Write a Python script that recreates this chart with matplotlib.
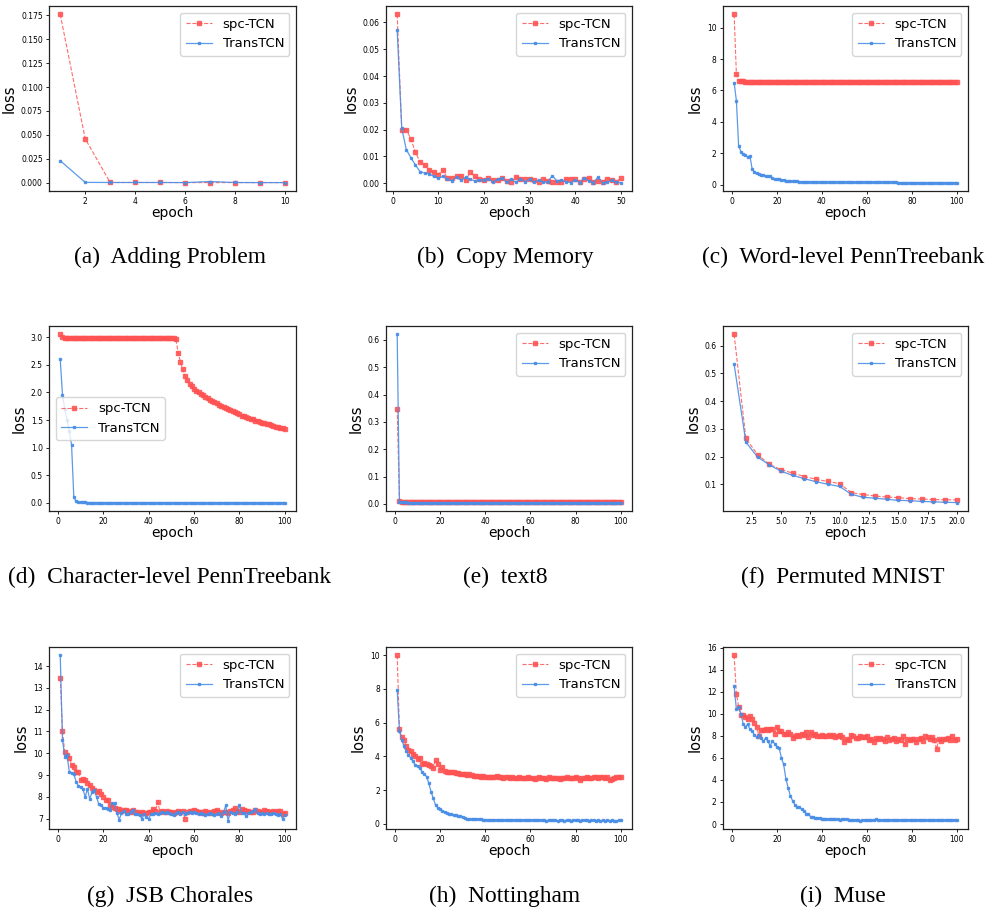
import numpy as np
import matplotlib
matplotlib.use("Agg")
import matplotlib.pyplot as plt

# ---------------- data ----------------
series_names = ["spc-TCN", "TransTCN"]
captions = ["(a)  Adding Problem", "(b)  Copy Memory", "(c)  Word-level PennTreebank",
            "(d)  Character-level PennTreebank", "(e)  text8", "(f)  Permuted MNIST",
            "(g)  JSB Chorales", "(h)  Nottingham", "(i)  Muse"]

adding_spc = [0.176, 0.046, 0.0002, 0.0002, 0.0002, 0.0001, 0.0001, 0.0001, 0.0001, 0.0001]
adding_trans = [0.023, 0.0003, 0.0002, 0.0002, 0.0002, 0.0001, 0.0012, 0.0002, 0.0001, 0.0001]

copy_spc = [0.063, 0.020, 0.020, 0.0165, 0.0115, 0.008, 0.0068, 0.0048, 0.004, 0.0032,
            0.005, 0.0018, 0.0018, 0.0025, 0.0027, 0.001, 0.004, 0.0025, 0.0015, 0.001,
            0.0018, 0.001, 0.0012, 0.002, 0.0008, 0.0003, 0.0024, 0.0015, 0.0015, 0.0014,
            0.001, 0.0005, 0.0017, 0.0008, 0.0004, 0.0005, 0.0003, 0.0014, 0.0014, 0.0015,
            0.0003, 0.0017, 0.0018, 0.0003, 0.0008, 0.0005, 0.0017, 0.0012, 0.0005, 0.0018]
copy_trans = [0.057, 0.0205, 0.0125, 0.0095, 0.0068, 0.0043, 0.0038, 0.0035, 0.0025, 0.0018,
              0.0025, 0.0015, 0.0008, 0.0022, 0.001, 0.0022, 0.0015, 0.0008, 0.0012, 0.0012,
              0.0017, 0.0003, 0.0014, 0.0018, 0.0003, 0.0015, 0.0003, 0.0015, 0.0005, 0.0015,
              0.0003, 0.0012, 0.0003, 0.0005, 0.0028, 0.0008, 0.0012, 0.0005, 0.0002, 0.0012,
              0.0002, 0.002, 0.0008, 0.0002, 0.0022, 0.0002, 0.0003, 0.001, 0.0003, 0.0002]

word_spc = [10.85, 7.05, 6.62, 6.60, 6.58, 6.56, 6.56, 6.55, 6.55, 6.55,
            6.55, 6.55, 6.54, 6.54, 6.54, 6.54, 6.54, 6.54, 6.54, 6.54,
            6.54, 6.54, 6.54, 6.54, 6.54, 6.54, 6.54, 6.54, 6.54, 6.54,
            6.54, 6.54, 6.54, 6.54, 6.54, 6.54, 6.54, 6.53, 6.53, 6.53,
            6.53, 6.53, 6.53, 6.53, 6.53, 6.53, 6.53, 6.53, 6.53, 6.53,
            6.53, 6.53, 6.53, 6.53, 6.53, 6.53, 6.53, 6.53, 6.53, 6.53,
            6.53, 6.53, 6.53, 6.53, 6.53, 6.53, 6.53, 6.53, 6.53, 6.53,
            6.53, 6.53, 6.53, 6.53, 6.53, 6.53, 6.53, 6.53, 6.53, 6.53,
            6.53, 6.53, 6.53, 6.53, 6.53, 6.53, 6.53, 6.53, 6.53, 6.53,
            6.53, 6.53, 6.53, 6.53, 6.53, 6.53, 6.53, 6.53, 6.53, 6.53]
word_trans = [6.50, 5.35, 2.48, 2.10, 1.95, 1.88, 1.75, 1.85, 1.00, 0.82,
              0.72, 0.66, 0.62, 0.59, 0.57, 0.55, 0.53, 0.40, 0.36, 0.34,
              0.33, 0.31, 0.30, 0.26, 0.24, 0.23, 0.22, 0.21, 0.20, 0.19,
              0.19, 0.18, 0.18, 0.17, 0.17, 0.17, 0.16, 0.16, 0.16, 0.16,
              0.15, 0.15, 0.15, 0.15, 0.15, 0.15, 0.15, 0.15, 0.15, 0.15,
              0.14, 0.14, 0.14, 0.14, 0.14, 0.14, 0.14, 0.14, 0.14, 0.14,
              0.14, 0.14, 0.14, 0.14, 0.14, 0.14, 0.14, 0.14, 0.14, 0.14,
              0.14, 0.14, 0.14, 0.13, 0.13, 0.13, 0.13, 0.13, 0.13, 0.13,
              0.13, 0.13, 0.13, 0.13, 0.13, 0.13, 0.13, 0.13, 0.13, 0.13,
              0.13, 0.13, 0.13, 0.13, 0.13, 0.13, 0.13, 0.13, 0.13, 0.13]

char_spc = [3.05, 3.00, 2.98, 2.98, 2.98, 2.98, 2.98, 2.98, 2.98, 2.98,
            2.98, 2.98, 2.98, 2.98, 2.98, 2.98, 2.98, 2.98, 2.98, 2.98,
            2.98, 2.98, 2.98, 2.98, 2.98, 2.98, 2.98, 2.98, 2.98, 2.98,
            2.98, 2.98, 2.98, 2.98, 2.98, 2.98, 2.98, 2.98, 2.98, 2.98,
            2.98, 2.98, 2.98, 2.98, 2.98, 2.98, 2.98, 2.98, 2.98, 2.98,
            2.98, 2.96, 2.72, 2.55, 2.42, 2.30, 2.22, 2.16, 2.11, 2.07,
            2.03, 2.00, 1.97, 1.95, 1.92, 1.90, 1.87, 1.85, 1.83, 1.80,
            1.78, 1.76, 1.74, 1.72, 1.70, 1.68, 1.66, 1.64, 1.62, 1.60,
            1.58, 1.57, 1.55, 1.54, 1.52, 1.51, 1.49, 1.48, 1.47, 1.45,
            1.44, 1.43, 1.42, 1.41, 1.39, 1.38, 1.37, 1.36, 1.35, 1.33]
char_trans = [2.60, 1.95, 1.70, 1.50, 1.30, 1.05, 0.10, 0.03, 0.015, 0.01,
              0.008, 0.007, 0.006, 0.006, 0.005, 0.005, 0.005, 0.005, 0.005, 0.005,
              0.005, 0.005, 0.005, 0.005, 0.005, 0.005, 0.005, 0.005, 0.005, 0.005,
              0.005, 0.005, 0.005, 0.005, 0.005, 0.005, 0.005, 0.005, 0.005, 0.005,
              0.005, 0.005, 0.005, 0.005, 0.005, 0.005, 0.005, 0.005, 0.005, 0.005,
              0.005, 0.005, 0.005, 0.005, 0.005, 0.005, 0.005, 0.005, 0.005, 0.005,
              0.005, 0.005, 0.005, 0.005, 0.005, 0.005, 0.005, 0.005, 0.005, 0.005,
              0.005, 0.005, 0.005, 0.005, 0.005, 0.005, 0.005, 0.005, 0.005, 0.005,
              0.005, 0.005, 0.005, 0.005, 0.005, 0.005, 0.005, 0.005, 0.005, 0.005,
              0.005, 0.005, 0.005, 0.005, 0.005, 0.005, 0.005, 0.005, 0.005, 0.005]

text8_spc = [0.347, 0.009, 0.008, 0.008, 0.008, 0.008, 0.008, 0.008, 0.008, 0.008,
             0.008, 0.008, 0.008, 0.008, 0.008, 0.008, 0.008, 0.008, 0.008, 0.008,
             0.008, 0.008, 0.008, 0.008, 0.008, 0.008, 0.008, 0.008, 0.008, 0.008,
             0.007, 0.007, 0.007, 0.007, 0.007, 0.007, 0.007, 0.007, 0.007, 0.007,
             0.007, 0.007, 0.007, 0.007, 0.007, 0.007, 0.007, 0.007, 0.007, 0.007,
             0.007, 0.007, 0.007, 0.007, 0.007, 0.007, 0.007, 0.007, 0.007, 0.007,
             0.007, 0.007, 0.007, 0.007, 0.007, 0.007, 0.007, 0.007, 0.007, 0.007,
             0.007, 0.007, 0.007, 0.007, 0.007, 0.007, 0.007, 0.007, 0.007, 0.007,
             0.007, 0.007, 0.007, 0.007, 0.007, 0.007, 0.007, 0.007, 0.007, 0.007,
             0.007, 0.007, 0.007, 0.007, 0.007, 0.007, 0.007, 0.007, 0.007, 0.007]
text8_trans = [0.620, 0.007, 0.006, 0.006, 0.006, 0.005, 0.005, 0.005, 0.005, 0.005,
               0.005, 0.005, 0.005, 0.005, 0.005, 0.005, 0.005, 0.005, 0.005, 0.005,
               0.005, 0.005, 0.005, 0.005, 0.005, 0.005, 0.005, 0.005, 0.005, 0.005,
               0.005, 0.005, 0.005, 0.005, 0.005, 0.005, 0.005, 0.005, 0.005, 0.005,
               0.005, 0.005, 0.005, 0.005, 0.005, 0.005, 0.005, 0.005, 0.005, 0.005,
               0.005, 0.005, 0.005, 0.005, 0.005, 0.005, 0.005, 0.005, 0.005, 0.005,
               0.005, 0.005, 0.005, 0.005, 0.005, 0.005, 0.005, 0.005, 0.005, 0.005,
               0.005, 0.005, 0.005, 0.005, 0.005, 0.005, 0.005, 0.005, 0.005, 0.005,
               0.005, 0.005, 0.005, 0.005, 0.005, 0.005, 0.005, 0.005, 0.005, 0.005,
               0.005, 0.005, 0.005, 0.005, 0.005, 0.005, 0.005, 0.005, 0.005, 0.005]

mnist_spc = [0.640, 0.265, 0.207, 0.172, 0.153, 0.140, 0.128, 0.118, 0.110, 0.102,
             0.070, 0.063, 0.058, 0.054, 0.052, 0.048, 0.047, 0.045, 0.044, 0.044]
mnist_trans = [0.532, 0.252, 0.198, 0.170, 0.147, 0.132, 0.120, 0.109, 0.100, 0.092,
               0.064, 0.053, 0.050, 0.046, 0.042, 0.041, 0.038, 0.037, 0.035, 0.034]

jsb_spc = [13.45, 11.0, 10.05, 9.9, 9.8, 9.45, 9.35, 9.15, 9.15, 8.75,
           8.8, 8.75, 8.65, 8.55, 8.4, 8.3, 8.2, 8.25, 8.15, 8.0,
           7.85, 7.85, 7.6, 7.55, 7.5, 7.45, 7.45, 7.35, 7.4, 7.4,
           7.35, 7.3, 7.4, 7.3, 7.3, 7.25, 7.3, 7.25, 7.25, 7.3,
           7.3, 7.45, 7.35, 7.75, 7.3, 7.35, 7.3, 7.35, 7.3, 7.3,
           7.25, 7.3, 7.35, 7.3, 7.35, 7.0, 7.3, 7.35, 7.35, 7.4,
           7.35, 7.3, 7.3, 7.25, 7.35, 7.3, 7.25, 7.3, 7.35, 7.4,
           7.3, 7.25, 7.3, 7.3, 7.25, 7.35, 7.4, 7.5, 7.35, 7.3,
           7.45, 7.4, 7.35, 7.35, 7.3, 7.3, 7.4, 7.35, 7.3, 7.3,
           7.4, 7.35, 7.3, 7.3, 7.35, 7.3, 7.35, 7.35, 7.2, 7.25]
jsb_trans = [14.5, 10.6, 9.85, 9.9, 9.15, 9.1, 9.05, 8.7, 8.5, 8.45,
             8.35, 8.0, 8.35, 7.9, 8.2, 8.3, 8.0, 7.65, 7.6, 7.5,
             7.5, 7.45, 7.4, 7.7, 7.7, 7.25, 6.95, 7.25, 7.35, 7.2,
             7.2, 7.3, 7.4, 7.2, 7.2, 7.15, 7.0, 7.2, 7.05, 7.0,
             7.2, 7.2, 7.25, 7.2, 7.25, 7.3, 7.25, 7.3, 7.25, 7.2,
             7.15, 7.25, 7.3, 7.2, 7.3, 7.2, 7.25, 7.3, 7.25, 7.3,
             7.25, 7.2, 7.25, 7.2, 7.15, 7.2, 7.25, 7.2, 7.15, 7.2,
             7.25, 7.1, 7.3, 7.6, 6.9, 7.3, 7.25, 7.2, 7.3, 7.6,
             7.25, 7.25, 7.1, 7.25, 7.3, 7.35, 7.45, 7.25, 7.2, 7.25,
             7.2, 7.25, 7.2, 7.2, 7.25, 7.2, 7.15, 7.2, 7.0, 7.15]

nott_spc = [10.0, 5.6, 5.15, 5.0, 4.6, 4.4, 4.3, 4.15, 4.05, 3.85,
            3.9, 3.55, 3.6, 3.55, 3.5, 3.4, 3.3, 3.8, 3.55, 3.2,
            3.35, 3.15, 3.1, 3.1, 3.05, 3.05, 3.0, 3.0, 2.95, 2.95,
            2.95, 2.9, 2.95, 2.9, 2.85, 2.85, 2.85, 2.8, 2.85, 2.8,
            2.8, 2.75, 2.8, 2.75, 2.85, 2.75, 2.8, 2.7, 2.75, 2.75,
            2.72, 2.75, 2.7, 2.72, 2.75, 2.7, 2.72, 2.7, 2.75, 2.7,
            2.72, 2.68, 2.72, 2.75, 2.7, 2.72, 2.68, 2.75, 2.7, 2.72,
            2.7, 2.72, 2.68, 2.72, 2.7, 2.75, 2.72, 2.7, 2.72, 2.75,
            2.72, 2.62, 2.7, 2.72, 2.75, 2.72, 2.7, 2.78, 2.75, 2.72,
            2.75, 2.78, 2.72, 2.75, 2.62, 2.68, 2.72, 2.75, 2.8, 2.75]
nott_trans = [7.95, 5.5, 5.0, 4.6, 4.3, 4.1, 3.9, 3.7, 3.5, 3.4,
              3.3, 3.1, 2.95, 2.8, 2.4, 1.9, 1.5, 1.1, 0.95, 0.85,
              0.75, 0.7, 0.65, 0.6, 0.55, 0.5, 0.5, 0.48, 0.45, 0.4,
              0.32, 0.3, 0.29, 0.28, 0.28, 0.27, 0.27, 0.26, 0.25, 0.25,
              0.24, 0.24, 0.23, 0.23, 0.22, 0.22, 0.23, 0.22, 0.22, 0.21,
              0.22, 0.21, 0.21, 0.22, 0.21, 0.2, 0.21, 0.2, 0.21, 0.2,
              0.21, 0.2, 0.2, 0.21, 0.2, 0.2, 0.19, 0.2, 0.2, 0.21,
              0.2, 0.19, 0.2, 0.2, 0.19, 0.2, 0.2, 0.19, 0.2, 0.21,
              0.2, 0.19, 0.2, 0.22, 0.2, 0.19, 0.2, 0.2, 0.19, 0.2,
              0.19, 0.2, 0.18, 0.2, 0.19, 0.2, 0.19, 0.18, 0.2, 0.2]

muse_spc = [15.3, 11.8, 10.6, 9.85, 9.9, 9.7, 9.5, 9.75, 9.55, 9.2,
            8.8, 8.0, 8.5, 8.55, 8.6, 8.55, 8.65, 8.6, 8.15, 8.8,
            8.45, 8.4, 8.2, 8.2, 8.35, 8.2, 7.8, 8.0, 8.1, 7.95,
            8.2, 8.05, 8.3, 7.85, 8.3, 8.05, 8.15, 8.0, 8.0, 8.05,
            8.0, 7.95, 8.05, 7.95, 8.1, 7.85, 7.95, 8.1, 7.85, 7.4,
            7.7, 7.65, 8.1, 7.95, 7.8, 7.8, 7.95, 7.85, 7.85, 7.95,
            7.6, 7.75, 7.4, 7.8, 7.7, 7.8, 7.75, 7.5, 7.85, 7.6,
            7.7, 7.8, 7.5, 7.7, 7.6, 7.95, 7.25, 7.7, 7.6, 7.7,
            7.75, 7.4, 7.75, 7.8, 7.5, 8.0, 7.85, 7.7, 7.9, 7.6,
            6.8, 7.7, 7.5, 7.75, 7.75, 7.8, 7.6, 8.0, 7.6, 7.7]
muse_trans = [12.5, 10.4, 10.6, 10.0, 9.1, 8.8, 9.05, 8.6, 8.4, 8.1,
              7.9, 8.05, 7.8, 7.5, 7.8, 7.5, 7.1, 7.5, 7.3, 7.0,
              6.9, 6.0, 5.4, 4.1, 3.3, 2.55, 2.1, 1.75, 1.5, 1.5,
              1.35, 1.2, 0.95, 0.95, 0.65, 0.6, 0.55, 0.55, 0.55, 0.5,
              0.5, 0.48, 0.45, 0.5, 0.45, 0.42, 0.45, 0.4, 0.48, 0.45,
              0.42, 0.4, 0.38, 0.4, 0.38, 0.4, 0.3, 0.35, 0.38, 0.35,
              0.4, 0.35, 0.35, 0.42, 0.38, 0.35, 0.33, 0.35, 0.38, 0.33,
              0.35, 0.38, 0.33, 0.35, 0.33, 0.38, 0.35, 0.33, 0.38, 0.35,
              0.33, 0.35, 0.4, 0.35, 0.38, 0.33, 0.35, 0.38, 0.33, 0.35,
              0.38, 0.35, 0.33, 0.38, 0.35, 0.4, 0.35, 0.33, 0.38, 0.35]

panels = [(adding_spc, adding_trans), (copy_spc, copy_trans), (word_spc, word_trans),
          (char_spc, char_trans), (text8_spc, text8_trans), (mnist_spc, mnist_trans),
          (jsb_spc, jsb_trans), (nott_spc, nott_trans), (muse_spc, muse_trans)]

# ---------------- layout ----------------
W, H = 990, 913
fig = plt.figure(figsize=(W / 100, H / 100), dpi=100)

col_x = [(49, 296), (386, 632), (723, 968)]
row_y = [(6, 191), (326, 511), (647, 829)]
cap_y = [257, 577, 896]
cap_x = [170, 505, 843]

RED = "#ff5252"
BLUE = "#4a8ee6"

for i, (spc, trans) in enumerate(panels):
    r, c = divmod(i, 3)
    x0, x1 = col_x[c]
    y0, y1 = row_y[r]
    ax = fig.add_axes([x0 / W, 1 - y1 / H, (x1 - x0) / W, (y1 - y0) / H])
    ep_s = np.arange(1, len(spc) + 1)
    ep_t = np.arange(1, len(trans) + 1)
    ax.plot(ep_s, spc, linestyle="--", color=RED, marker="s", markersize=2.6,
            linewidth=0.8, alpha=0.85, label=series_names[0])
    ax.plot(ep_t, trans, linestyle="-", color=BLUE, marker="s", markersize=1.6,
            linewidth=0.9, alpha=0.9, label=series_names[1])
    ax.tick_params(labelsize=5.5, length=2.5, width=0.6, pad=2)
    ax.set_xlabel("epoch", fontsize=10, labelpad=0)
    ax.set_ylabel("loss", fontsize=10.5, labelpad=3)
    loc = "center left" if i == 3 else "upper right"
    ax.legend(loc=loc, fontsize=9.5, handlelength=2.0)
    for s in ax.spines.values():
        s.set_linewidth(0.9)
        s.set_color("#222222")
    fig.text(cap_x[c] / W, 1 - cap_y[r] / H, captions[i], ha="center", va="center",
             fontsize=16.8, family="Liberation Serif")

fig.savefig("out.png", dpi=100)
